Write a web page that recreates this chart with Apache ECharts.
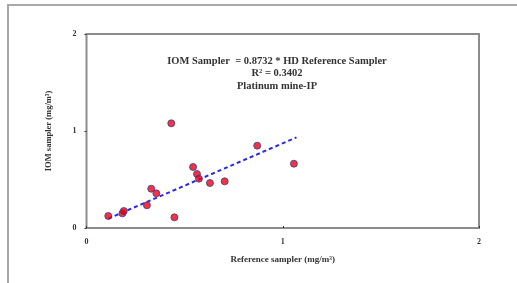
<!DOCTYPE html>
<html>
<head>
<meta charset="utf-8">
<script src="https://cdn.jsdelivr.net/npm/echarts@6/dist/echarts.min.js"></script>
<style>
html, body { margin: 0; padding: 0; background: #fff; }
#frame { position: absolute; left: 7px; top: 4px; width: 520px; height: 290px; border: 2px solid #a8a8a8; box-sizing: border-box; }
#main { width: 517px; height: 283px; position: absolute; left: 0; top: 0; }
</style>
</head>
<body>
<div id="frame"></div>
<div id="main"></div>
<script>
// reference sampler vs IOM sampler, mg/m3
var refX = [0.111, 0.183, 0.19, 0.308, 0.33, 0.356, 0.432, 0.448, 0.543, 0.563, 0.573, 0.629, 0.704, 0.870, 1.057];
var iomY = [0.124, 0.151, 0.175, 0.234, 0.405, 0.357, 1.079, 0.11, 0.629, 0.557, 0.509, 0.464, 0.481, 0.849, 0.663];
var slope = 0.8732;
var fitRange = [0.111, 1.07];

var points = refX.map(function (x, i) { return [x, iomY[i]]; });
var fitLine = fitRange.map(function (x) { return [x, slope * x]; });

var serif = "'Liberation Serif', 'DejaVu Serif', serif";
var txt = { fontFamily: serif, fontWeight: 'bold', fontSize: 10.5, fill: '#333' };

function centered(y, text, rich) {
    return {
        type: 'text', x: 277, y: y,
        style: Object.assign({ text: text, align: 'center', verticalAlign: 'middle', rich: rich }, txt)
    };
}

var myChart = echarts.init(document.getElementById('main'));

myChart.setOption({
    animation: false,
    grid: {
        left: 86.5, right: 38, top: 34, bottom: 55,
        show: true,
        borderColor: '#8c8c8c',
        borderWidth: 2
    },
    xAxis: {
        type: 'value', min: 0, max: 2, interval: 1,
        name: 'Reference sampler (mg/m\u00b3)',
        nameLocation: 'middle', nameGap: 27,
        nameTextStyle: { fontFamily: serif, fontWeight: 'bold', fontSize: 9, color: '#333' },
        axisLine: { show: false },
        axisTick: { show: true, inside: true, length: 2, lineStyle: { color: '#333' } },
        axisLabel: { fontFamily: serif, fontWeight: 'bold', fontSize: 8, color: '#333', margin: 10 },
        splitLine: { show: false }
    },
    yAxis: {
        type: 'value', min: 0, max: 2, interval: 1,
        name: 'IOM sampler (mg/m\u00b3)',
        nameLocation: 'middle', nameGap: 33,
        nameTextStyle: { fontFamily: serif, fontWeight: 'bold', fontSize: 8.5, color: '#333' },
        axisLine: { show: false },
        axisTick: { show: true, length: 2, lineStyle: { color: '#333' } },
        axisLabel: { fontFamily: serif, fontWeight: 'bold', fontSize: 8, color: '#333', margin: 10 },
        splitLine: { show: false }
    },
    graphic: [
        centered(61, 'IOM Sampler  = 0.8732 * HD Reference Sampler'),
        centered(73, '{a|R}{s|2}{a| = 0.3402}', {
            a: txt,
            s: { fontFamily: serif, fontWeight: 'bold', fontSize: 6.5, fill: '#333', verticalAlign: 'top' }
        }),
        centered(86, 'Platinum mine-IP')
    ],
    series: [
        {
            type: 'line',
            data: fitLine,
            symbol: 'none',
            lineStyle: { color: '#2a2ae0', width: 2, type: [4, 3] },
            z: 1
        },
        {
            type: 'scatter',
            data: points,
            symbolSize: 7,
            itemStyle: { color: '#f00010', borderColor: '#3c3c8c', borderWidth: 1 },
            z: 2
        }
    ]
});
</script>
</body>
</html>
